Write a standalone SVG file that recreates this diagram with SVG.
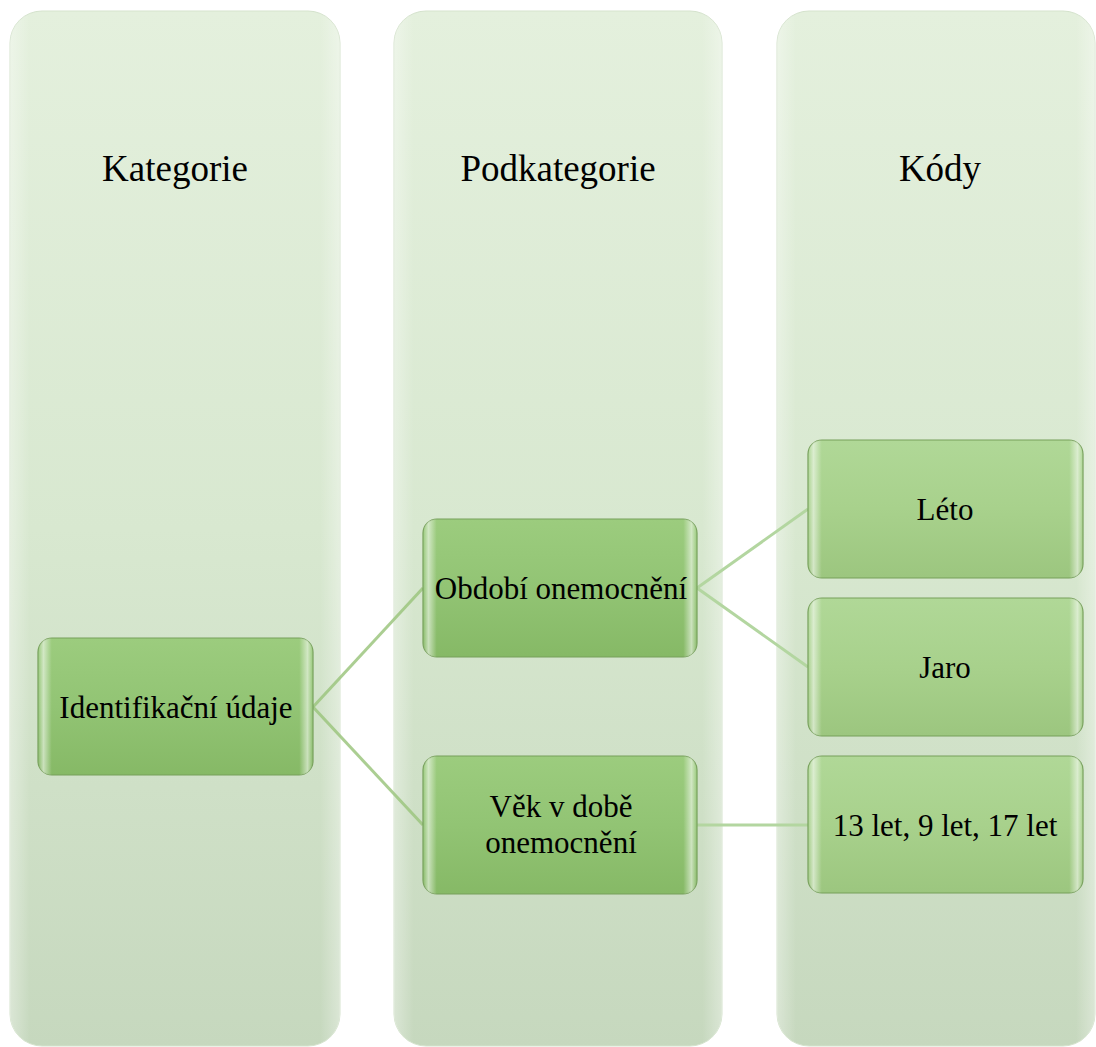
<svg xmlns="http://www.w3.org/2000/svg" width="1096" height="1047" viewBox="0 0 1096 1047">
<defs>
<linearGradient id="colG" x1="0" y1="0" x2="0" y2="1">
<stop offset="0" stop-color="#e4f0dd"/>
<stop offset="0.5" stop-color="#d8e8d0"/>
<stop offset="1" stop-color="#c6d8be"/>
</linearGradient>
<linearGradient id="colEdge" x1="0" y1="0" x2="1" y2="0">
<stop offset="0" stop-color="#ffffff" stop-opacity="0.35"/>
<stop offset="0.06" stop-color="#ffffff" stop-opacity="0"/>
<stop offset="0.94" stop-color="#ffffff" stop-opacity="0"/>
<stop offset="1" stop-color="#ffffff" stop-opacity="0.35"/>
</linearGradient>
<linearGradient id="nodeG" x1="0" y1="0" x2="0" y2="1">
<stop offset="0" stop-color="#9ccc7e"/>
<stop offset="0.5" stop-color="#92c474"/>
<stop offset="1" stop-color="#86b966"/>
</linearGradient>
<linearGradient id="nodeG2" x1="0" y1="0" x2="0" y2="1">
<stop offset="0" stop-color="#b0d897"/>
<stop offset="0.5" stop-color="#a8d18c"/>
<stop offset="1" stop-color="#9cc67f"/>
</linearGradient>
<linearGradient id="bevel" x1="0" y1="0" x2="1" y2="0">
<stop offset="0" stop-color="#ffffff" stop-opacity="0"/>
<stop offset="0.02" stop-color="#ffffff" stop-opacity="0.55"/>
<stop offset="0.05" stop-color="#ffffff" stop-opacity="0"/>
<stop offset="0.95" stop-color="#ffffff" stop-opacity="0"/>
<stop offset="0.98" stop-color="#ffffff" stop-opacity="0.55"/>
<stop offset="1" stop-color="#ffffff" stop-opacity="0"/>
</linearGradient>
</defs>
<style>
.col{fill:url(#colG);stroke:#d5e3cd;stroke-width:1}
.colhl{fill:url(#colEdge)}
.node{stroke:#76a05a;stroke-width:1.2}
.n1{fill:url(#nodeG)}
.n2{fill:url(#nodeG2)}
.bev{fill:url(#bevel)}
.t{font-family:"Liberation Serif","Times New Roman",serif;fill:#000;text-anchor:middle}
.title{font-size:37px}
.lbl{font-size:31px}
.conn{stroke:#9cc67f;stroke-width:3;fill:none;stroke-opacity:0.85}
.conn2{stroke:#b3d6a0;stroke-width:3;fill:none}
</style>
<g id="col-kategorie">
<rect class="col" x="10" y="11" width="330" height="1035" rx="32"/>
<rect class="colhl" x="10" y="11" width="330" height="1035" rx="32"/>
<text class="t title" x="175" y="181">Kategorie</text>
</g>
<g id="col-podkategorie">
<rect class="col" x="394" y="11" width="328" height="1035" rx="32"/>
<rect class="colhl" x="394" y="11" width="328" height="1035" rx="32"/>
<text class="t title" x="558" y="181">Podkategorie</text>
</g>
<g id="col-kody">
<rect class="col" x="777" y="11" width="318" height="1035" rx="32"/>
<rect class="colhl" x="777" y="11" width="318" height="1035" rx="32"/>
<text class="t title" x="940" y="181">Kódy</text>
</g>
<g id="connectors">
<line class="conn" x1="313" y1="707" x2="423" y2="588"/>
<line class="conn" x1="313" y1="707" x2="423" y2="825"/>
<line class="conn2" x1="697" y1="588" x2="808" y2="509"/>
<line class="conn2" x1="697" y1="588" x2="808" y2="667"/>
<line class="conn2" x1="697" y1="825" x2="808" y2="825"/>
</g>
<g id="node-identifikacni">
<rect class="node n1" x="38" y="638" width="275" height="137" rx="14"/>
<rect class="bev" x="38" y="638" width="275" height="137" rx="14"/>
<text class="t lbl" x="176" y="718">Identifikační údaje</text>
</g>
<g id="node-obdobi">
<rect class="node n1" x="423" y="519" width="274" height="138" rx="14"/>
<rect class="bev" x="423" y="519" width="274" height="138" rx="14"/>
<text class="t lbl" x="561" y="599">Období onemocnění</text>
</g>
<g id="node-vek">
<rect class="node n1" x="423" y="756" width="274" height="138" rx="14"/>
<rect class="bev" x="423" y="756" width="274" height="138" rx="14"/>
<text class="t lbl" x="561" y="817">Věk v době</text>
<text class="t lbl" x="561" y="853">onemocnění</text>
</g>
<g id="node-leto">
<rect class="node n2" x="808" y="440" width="275" height="138" rx="14"/>
<rect class="bev" x="808" y="440" width="275" height="138" rx="14"/>
<text class="t lbl" x="945" y="520">Léto</text>
</g>
<g id="node-jaro">
<rect class="node n2" x="808" y="598" width="275" height="138" rx="14"/>
<rect class="bev" x="808" y="598" width="275" height="138" rx="14"/>
<text class="t lbl" x="945" y="678">Jaro</text>
</g>
<g id="node-let">
<rect class="node n2" x="808" y="756" width="275" height="137" rx="14"/>
<rect class="bev" x="808" y="756" width="275" height="137" rx="14"/>
<text class="t lbl" x="945" y="836">13 let, 9 let, 17 let</text>
</g>
</svg>
